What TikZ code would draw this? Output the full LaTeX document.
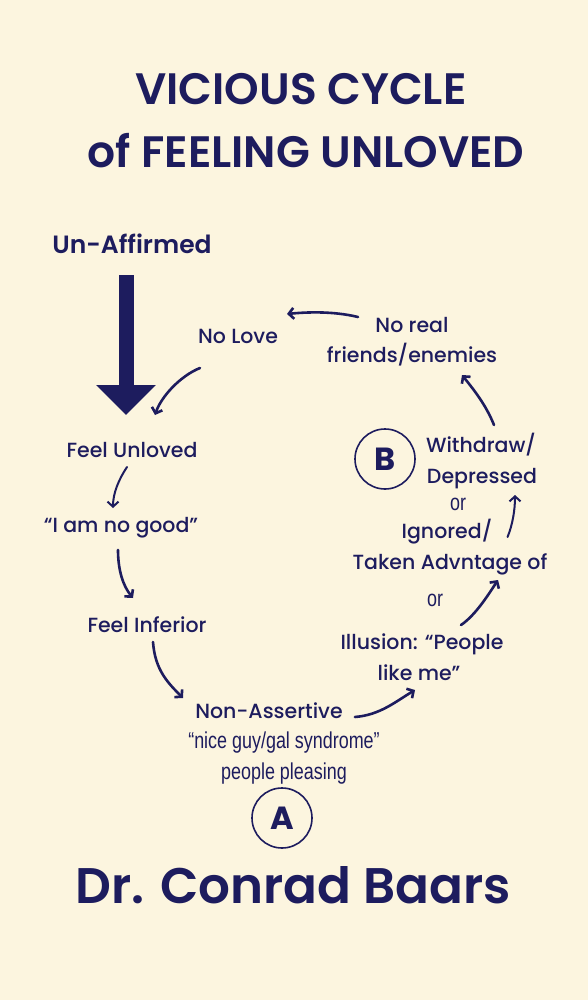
\documentclass[tikz,border=0pt]{standalone}
\usepackage{fontspec}
\setmainfont{Poppins}
\newfontfamily\medfont{Poppins Medium}
\newfontfamily\semifont{Poppins SemiBold}
\newfontfamily\narrowfont[FakeStretch=0.78]{Liberation Sans}
\usetikzlibrary{arrows.meta}
\definecolor{navy}{HTML}{1D1C5E}
\definecolor{cream}{HTML}{FCF5DF}
\begin{document}
\begin{tikzpicture}[x=1pt, y=-1pt,
        lbl/.style={
            text=navy,
            inner sep=0pt,
            anchor=base,
            font=\medfont\fontsize{20.5}{22}\selectfont
        },
        narrow/.style={
            lbl,
            font=\narrowfont\fontsize{23}{25}\selectfont
        },
        headline/.style={
            lbl,
            font=\semifont\fontsize{44}{48}\selectfont
        },
        badge/.style={
            circle,
            draw=navy,
            line width=1.6pt,
            minimum size=60pt,
            inner sep=0pt,
            text=navy,
            font=\bfseries\fontsize{32}{34}\selectfont
        },
        flow/.style={-{Straight Barb[length=5pt, width=11pt]}, line width=2.6pt, line cap=round, draw=navy},
        thinflow/.style={flow, line width=2pt},
        bigarrow/.style={-{Triangle[width=58pt, length=30pt]}, line width=15pt, draw=navy}
    ]
    % background, also the bounding box
    \fill[cream] (0,0) rectangle (588,1000);

    % titles
    \node[headline] (title1) at (301,105) {VICIOUS CYCLE};
    \node[headline] (title2) at (306,168) {of FEELING UNLOVED};
    \node[lbl, font=\semifont\fontsize{25}{28}\selectfont] (unaff) at (132,253) {Un-Affirmed};

    % left side of the cycle
    \node[lbl] (unloved) at (132,457) {Feel Unloved};
    \node[lbl] (nogood) at (121,532) {“I am no good”};
    \node[lbl] (inferior) at (147,632) {Feel Inferior};
    \node[lbl] (nonassert) at (269,718) {Non-Assertive};
    \node[narrow] (niceguy) at (284,748) {“nice guy/gal syndrome”};
    \node[narrow] (pleasing) at (284,779) {people pleasing};
    \node[badge] (badgeA) at (282,818) {A};

    % right side of the cycle
    \node[lbl] (illusion) at (422,649) {Illusion: “People};
    \node[lbl] (likeme) at (419,680) {like me”};
    \node[narrow] (or2) at (435,606) {or};
    \node[lbl] (ignored) at (447,538) {Ignored/};
    \node[lbl] (taken) at (450,569) {Taken Advntage of};
    \node[narrow] (or1) at (458,510) {or};
    \node[lbl] (withdraw) at (481,452) {Withdraw/};
    \node[lbl] (depressed) at (482,483) {Depressed};
    \node[badge] (badgeB) at (385,459) {B};
    \node[lbl] (noreal) at (412,332) {No real};
    \node[lbl] (friends) at (412,362) {friends/enemies};
    \node[lbl] (nolove) at (238,343) {No Love};

    \node[headline, font=\semifont\fontsize{50}{54}\selectfont] (author) at (293,903) {Dr. Conrad Baars};

    % big arrow
    \draw[bigarrow] ([shift={(-6,22)}]unaff.base) -- ([shift={(-6,-42)}]unloved.base);

    % the cycle
    \draw[thinflow] ([shift={(-5,10)}]unloved.base) .. controls +(-8,12) and +(0,-15) .. ([shift={(-8,-24)}]nogood.base);
    \draw[flow] ([shift={(-3,18)}]nogood.base) .. controls +(0,20) and +(-10,-12) .. ([shift={(-14,-34)}]inferior.base);
    \draw[flow] ([shift={(6,10)}]inferior.base) .. controls +(2,28) and +(-15,-15) .. ([shift={(-86,-20)}]nonassert.base);
    \draw[flow] ([shift={(12,-1)}]nonassert.base east) .. controls +(25,-2) and +(-20,12) .. ([shift={(-4,10)}]likeme.base);
    \draw[flow] ([shift={(39,-24)}]illusion.base) .. controls +(15,-10) and +(-8,12) .. ([shift={(48,11)}]taken.base);
    \draw[thinflow] ([shift={(15,-1)}]ignored.base east) .. controls +(5,-12) and +(0,15) .. ([shift={(33,12)}]depressed.base);
    \draw[flow] ([shift={(13,-27)}]withdraw.base) .. controls +(-8,-20) and +(12,15) .. ([shift={(50,13)}]friends.base);
    \draw[flow] ([shift={(-54,-15)}]noreal.base) .. controls +(-25,-6) and +(20,-2) .. ([shift={(49,-29)}]nolove.base);
    \draw[flow] ([shift={(-38,25)}]nolove.base) .. controls +(-20,8) and +(6,-18) .. ([shift={(23,-42)}]unloved.base);
\end{tikzpicture}
\end{document}
